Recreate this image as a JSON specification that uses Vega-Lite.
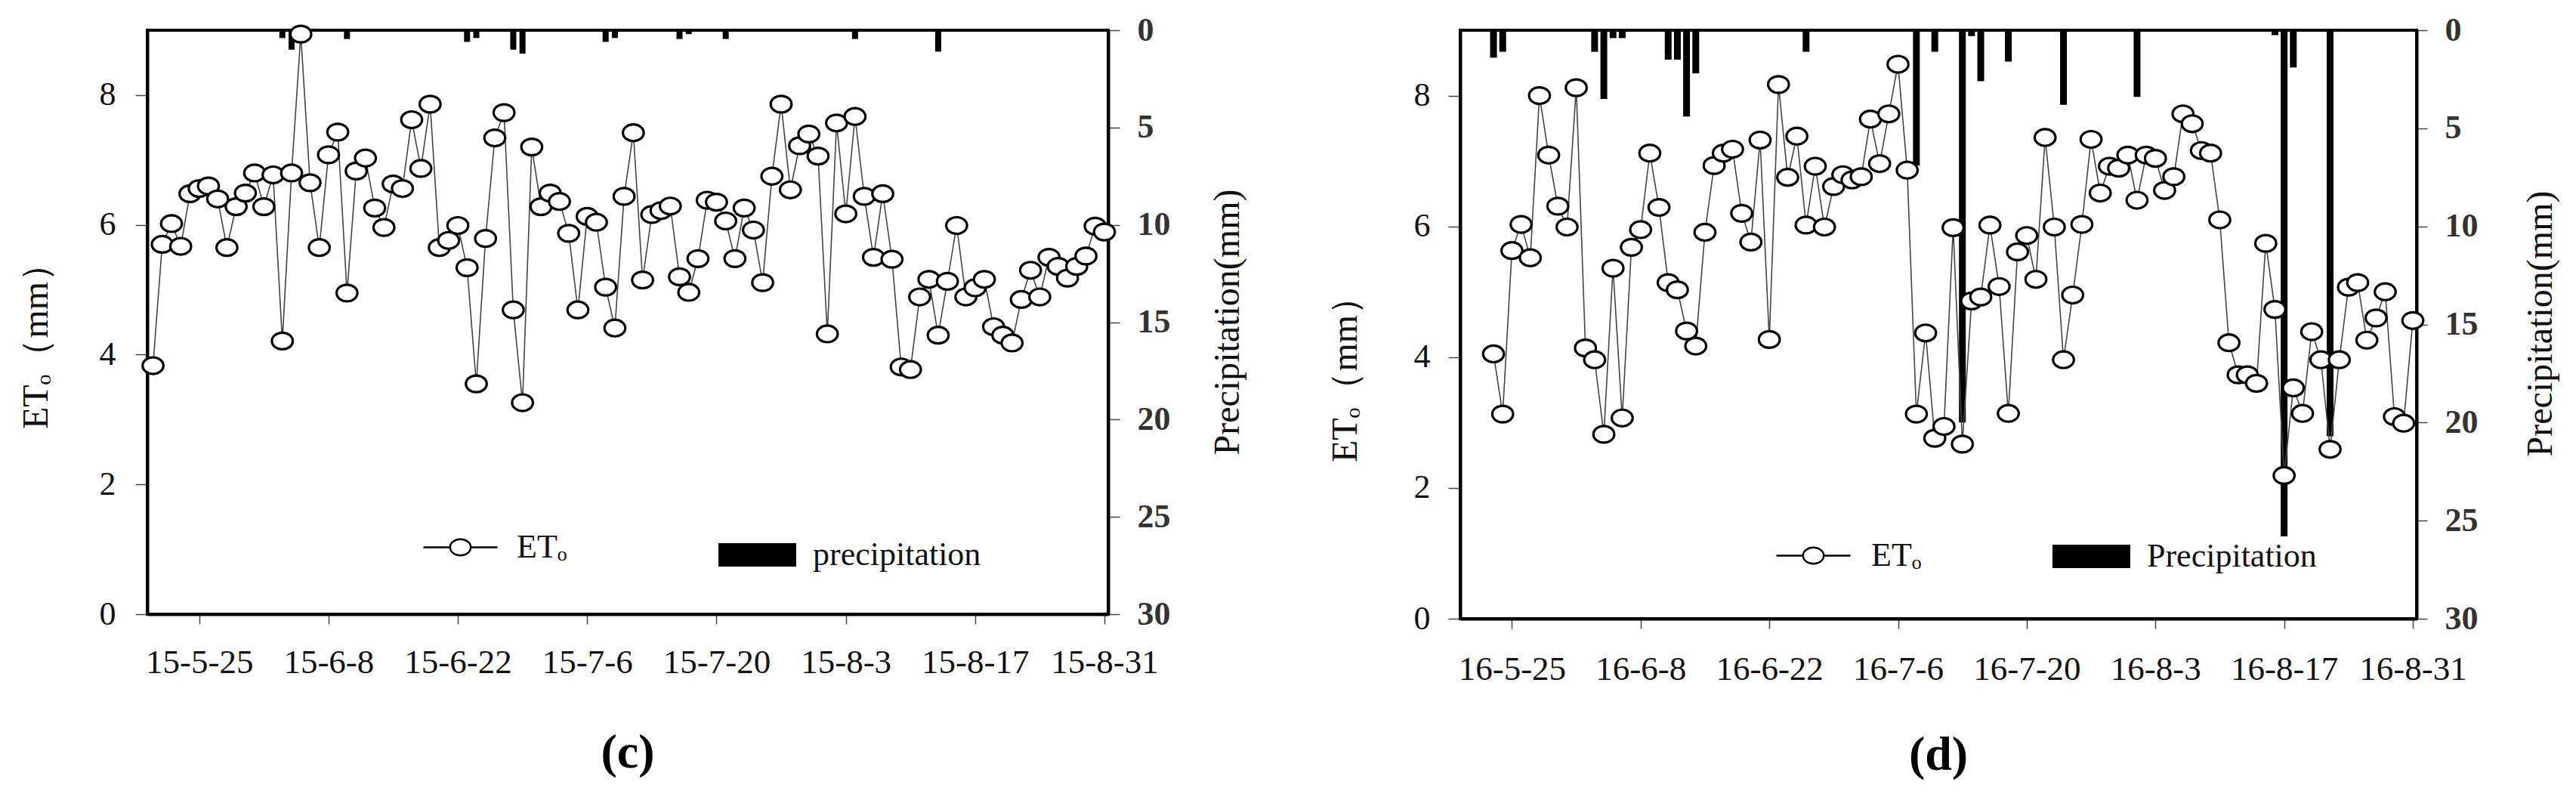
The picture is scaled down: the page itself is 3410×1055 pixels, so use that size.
{
  "$schema": "https://vega.github.io/schema/vega-lite/v6.json",
  "background": "white",
  "padding": {"left": 22, "top": 16, "right": 0, "bottom": 0},
  "spacing": 104,
  "config": {
    "font": "Liberation Serif",
    "view": {"stroke": "black", "strokeWidth": 4},
    "axis": {
      "labelFont": "Liberation Serif", "labelFontSize": 44, "labelColor": "#111",
      "titleFont": "Liberation Serif", "titleFontSize": 48, "titleFontWeight": "normal", "titleColor": "#111",
      "domainColor": "black", "domainWidth": 4, "tickColor": "#444", "tickWidth": 1.5, "grid": false,
      "labelFlush": false, "labelOverlap": false
    },
    "legend": {"labelFont": "Liberation Serif", "labelFontSize": 44, "labelColor": "#111", "labelLimit": 0, "padding": 0, "titlePadding": 0}
  },
  "datasets": {
    "et15": [
      {"date":"2015-05-20","et":3.83},{"date":"2015-05-21","et":5.70},{"date":"2015-05-22","et":6.02},{"date":"2015-05-23","et":5.67},{"date":"2015-05-24","et":6.48},{"date":"2015-05-25","et":6.56},{"date":"2015-05-26","et":6.60},{"date":"2015-05-27","et":6.40},{"date":"2015-05-28","et":5.65},{"date":"2015-05-29","et":6.28},{"date":"2015-05-30","et":6.49},{"date":"2015-05-31","et":6.80},
      {"date":"2015-06-01","et":6.28},{"date":"2015-06-02","et":6.77},{"date":"2015-06-03","et":4.21},{"date":"2015-06-04","et":6.80},{"date":"2015-06-05","et":8.94},{"date":"2015-06-06","et":6.65},{"date":"2015-06-07","et":5.65},{"date":"2015-06-08","et":7.08},{"date":"2015-06-09","et":7.43},{"date":"2015-06-10","et":4.95},{"date":"2015-06-11","et":6.83},{"date":"2015-06-12","et":7.03},{"date":"2015-06-13","et":6.26},{"date":"2015-06-14","et":5.96},{"date":"2015-06-15","et":6.63},{"date":"2015-06-16","et":6.56},{"date":"2015-06-17","et":7.62},{"date":"2015-06-18","et":6.87},{"date":"2015-06-19","et":7.86},{"date":"2015-06-20","et":5.65},{"date":"2015-06-21","et":5.76},{"date":"2015-06-22","et":5.99},{"date":"2015-06-23","et":5.34},{"date":"2015-06-24","et":3.55},{"date":"2015-06-25","et":5.79},{"date":"2015-06-26","et":7.34},{"date":"2015-06-27","et":7.73},{"date":"2015-06-28","et":4.69},{"date":"2015-06-29","et":3.26},{"date":"2015-06-30","et":7.20},
      {"date":"2015-07-01","et":6.28},{"date":"2015-07-02","et":6.49},{"date":"2015-07-03","et":6.36},{"date":"2015-07-04","et":5.87},{"date":"2015-07-05","et":4.69},{"date":"2015-07-06","et":6.13},{"date":"2015-07-07","et":6.04},{"date":"2015-07-08","et":5.04},{"date":"2015-07-09","et":4.41},{"date":"2015-07-10","et":6.44},{"date":"2015-07-11","et":7.42},{"date":"2015-07-12","et":5.15},{"date":"2015-07-13","et":6.16},{"date":"2015-07-14","et":6.22},{"date":"2015-07-15","et":6.29},{"date":"2015-07-16","et":5.20},{"date":"2015-07-17","et":4.96},{"date":"2015-07-18","et":5.48},{"date":"2015-07-19","et":6.38},{"date":"2015-07-20","et":6.35},{"date":"2015-07-21","et":6.06},{"date":"2015-07-22","et":5.48},{"date":"2015-07-23","et":6.26},{"date":"2015-07-24","et":5.92},{"date":"2015-07-25","et":5.11},{"date":"2015-07-26","et":6.75},{"date":"2015-07-27","et":7.86},{"date":"2015-07-28","et":6.54},{"date":"2015-07-29","et":7.22},{"date":"2015-07-30","et":7.40},{"date":"2015-07-31","et":7.06},
      {"date":"2015-08-01","et":4.32},{"date":"2015-08-02","et":7.57},{"date":"2015-08-03","et":6.17},{"date":"2015-08-04","et":7.67},{"date":"2015-08-05","et":6.44},{"date":"2015-08-06","et":5.50},{"date":"2015-08-07","et":6.48},{"date":"2015-08-08","et":5.47},{"date":"2015-08-09","et":3.81},{"date":"2015-08-10","et":3.77},{"date":"2015-08-11","et":4.89},{"date":"2015-08-12","et":5.16},{"date":"2015-08-13","et":4.30},{"date":"2015-08-14","et":5.13},{"date":"2015-08-15","et":5.99},{"date":"2015-08-16","et":4.89},{"date":"2015-08-17","et":5.03},{"date":"2015-08-18","et":5.16},{"date":"2015-08-19","et":4.43},{"date":"2015-08-20","et":4.30},{"date":"2015-08-21","et":4.18},{"date":"2015-08-22","et":4.85},{"date":"2015-08-23","et":5.30},{"date":"2015-08-24","et":4.89},{"date":"2015-08-25","et":5.50},{"date":"2015-08-26","et":5.36},{"date":"2015-08-27","et":5.18},{"date":"2015-08-28","et":5.36},{"date":"2015-08-29","et":5.52},{"date":"2015-08-30","et":5.98},{"date":"2015-08-31","et":5.89}
    ],
    "pr15": [
      {"date":"2015-06-03","p":0.4},{"date":"2015-06-04","p":1.0},{"date":"2015-06-10","p":0.45},{"date":"2015-06-23","p":0.6},{"date":"2015-06-24","p":0.4},{"date":"2015-06-28","p":1.0},{"date":"2015-06-29","p":1.2},{"date":"2015-07-08","p":0.6},{"date":"2015-07-09","p":0.4},{"date":"2015-07-16","p":0.45},{"date":"2015-07-17","p":0.2},{"date":"2015-07-21","p":0.45},{"date":"2015-08-04","p":0.45},{"date":"2015-08-13","p":1.1}
    ],
    "et16": [
      {"date":"2016-05-23","et":4.05},{"date":"2016-05-24","et":3.13},{"date":"2016-05-25","et":5.63},{"date":"2016-05-26","et":6.03},{"date":"2016-05-27","et":5.52},{"date":"2016-05-28","et":8.00},{"date":"2016-05-29","et":7.09},{"date":"2016-05-30","et":6.31},{"date":"2016-05-31","et":5.99},
      {"date":"2016-06-01","et":8.12},{"date":"2016-06-02","et":4.14},{"date":"2016-06-03","et":3.96},{"date":"2016-06-04","et":2.82},{"date":"2016-06-05","et":5.36},{"date":"2016-06-06","et":3.07},{"date":"2016-06-07","et":5.68},{"date":"2016-06-08","et":5.95},{"date":"2016-06-09","et":7.12},{"date":"2016-06-10","et":6.29},{"date":"2016-06-11","et":5.14},{"date":"2016-06-12","et":5.03},{"date":"2016-06-13","et":4.40},{"date":"2016-06-14","et":4.17},{"date":"2016-06-15","et":5.91},{"date":"2016-06-16","et":6.93},{"date":"2016-06-17","et":7.12},{"date":"2016-06-18","et":7.18},{"date":"2016-06-19","et":6.20},{"date":"2016-06-20","et":5.76},{"date":"2016-06-21","et":7.32},{"date":"2016-06-22","et":4.27},{"date":"2016-06-23","et":8.17},{"date":"2016-06-24","et":6.75},{"date":"2016-06-25","et":7.38},{"date":"2016-06-26","et":6.02},{"date":"2016-06-27","et":6.92},{"date":"2016-06-28","et":5.99},{"date":"2016-06-29","et":6.61},{"date":"2016-06-30","et":6.79},
      {"date":"2016-07-01","et":6.71},{"date":"2016-07-02","et":6.76},{"date":"2016-07-03","et":7.64},{"date":"2016-07-04","et":6.96},{"date":"2016-07-05","et":7.72},{"date":"2016-07-06","et":8.48},{"date":"2016-07-07","et":6.86},{"date":"2016-07-08","et":3.13},{"date":"2016-07-09","et":4.37},{"date":"2016-07-10","et":2.76},{"date":"2016-07-11","et":2.94},{"date":"2016-07-12","et":5.98},{"date":"2016-07-13","et":2.67},{"date":"2016-07-14","et":4.86},{"date":"2016-07-15","et":4.92},{"date":"2016-07-16","et":6.02},{"date":"2016-07-17","et":5.08},{"date":"2016-07-18","et":3.14},{"date":"2016-07-19","et":5.61},{"date":"2016-07-20","et":5.86},{"date":"2016-07-21","et":5.19},{"date":"2016-07-22","et":7.36},{"date":"2016-07-23","et":5.99},{"date":"2016-07-24","et":3.96},{"date":"2016-07-25","et":4.95},{"date":"2016-07-26","et":6.03},{"date":"2016-07-27","et":7.33},{"date":"2016-07-28","et":6.51},{"date":"2016-07-29","et":6.92},{"date":"2016-07-30","et":6.89},{"date":"2016-07-31","et":7.09},
      {"date":"2016-08-01","et":6.40},{"date":"2016-08-02","et":7.09},{"date":"2016-08-03","et":7.04},{"date":"2016-08-04","et":6.55},{"date":"2016-08-05","et":6.76},{"date":"2016-08-06","et":7.72},{"date":"2016-08-07","et":7.57},{"date":"2016-08-08","et":7.16},{"date":"2016-08-09","et":7.12},{"date":"2016-08-10","et":6.10},{"date":"2016-08-11","et":4.22},{"date":"2016-08-12","et":3.73},{"date":"2016-08-13","et":3.73},{"date":"2016-08-14","et":3.60},{"date":"2016-08-15","et":5.74},{"date":"2016-08-16","et":4.73},{"date":"2016-08-17","et":2.19},{"date":"2016-08-18","et":3.53},{"date":"2016-08-19","et":3.14},{"date":"2016-08-20","et":4.39},{"date":"2016-08-21","et":3.96},{"date":"2016-08-22","et":2.59},{"date":"2016-08-23","et":3.96},{"date":"2016-08-24","et":5.07},{"date":"2016-08-25","et":5.14},{"date":"2016-08-26","et":4.26},{"date":"2016-08-27","et":4.60},{"date":"2016-08-28","et":5.00},{"date":"2016-08-29","et":3.09},{"date":"2016-08-30","et":2.99},{"date":"2016-08-31","et":4.56}
    ],
    "pr16": [
      {"date":"2016-05-23","p":1.4},{"date":"2016-05-24","p":1.1},{"date":"2016-06-03","p":1.1},{"date":"2016-06-04","p":3.5},{"date":"2016-06-05","p":0.4},{"date":"2016-06-06","p":0.4},{"date":"2016-06-11","p":1.5},{"date":"2016-06-12","p":1.5},{"date":"2016-06-13","p":4.4},{"date":"2016-06-14","p":2.2},{"date":"2016-06-26","p":1.1},{"date":"2016-07-08","p":6.9},{"date":"2016-07-10","p":1.1},{"date":"2016-07-13","p":20.0},{"date":"2016-07-14","p":0.3},{"date":"2016-07-15","p":2.6},{"date":"2016-07-18","p":1.6},{"date":"2016-07-24","p":3.8},{"date":"2016-08-01","p":3.4},{"date":"2016-08-16","p":0.25},{"date":"2016-08-17","p":25.8},{"date":"2016-08-18","p":1.9},{"date":"2016-08-22","p":20.7}
    ]
  },
  "resolve": {
    "scale": {"x": "independent", "y": "independent", "fill": "independent", "stroke": "independent"},
    "legend": {"fill": "independent", "stroke": "independent"}
  },
  "hconcat": [
    {
      "width": 1272, "height": 773,
      "title": {"text": "(c)", "orient": "bottom", "anchor": "middle", "frame": "group", "fontSize": 64, "fontWeight": "bold", "font": "Liberation Serif", "color": "black", "offset": 66},
      "resolve": {"scale": {"y": "independent"}},
      "layer": [
        {
          "data": {"name": "pr15"},
          "mark": {"type": "bar", "width": 8, "color": "black"},
          "encoding": {
            "x": {"field": "date", "type": "temporal",
              "scale": {"type": "utc", "domain": [{"year": 2015, "month": 5, "date": 19, "hours": 19, "utc": true}, {"year": 2015, "month": 8, "date": 31, "utc": true}]},
              "axis": {"title": null, "format": "%y-%-m-%-d", "tickSize": 13, "labelPadding": 28, "labelFontSize": 45,
                "values": [{"year": 2015, "month": 5, "date": 25, "utc": true}, {"year": 2015, "month": 6, "date": 8, "utc": true}, {"year": 2015, "month": 6, "date": 22, "utc": true}, {"year": 2015, "month": 7, "date": 6, "utc": true}, {"year": 2015, "month": 7, "date": 20, "utc": true}, {"year": 2015, "month": 8, "date": 3, "utc": true}, {"year": 2015, "month": 8, "date": 17, "utc": true}, {"year": 2015, "month": 8, "date": 31, "utc": true}]}},
            "y": {"field": "p", "type": "quantitative",
              "scale": {"domain": [0, 30], "reverse": true, "nice": false},
              "axis": {"orient": "right", "title": "Precipitation(mm)", "values": [0, 5, 10, 15, 20, 25, 30], "tickSize": 15, "labelPadding": 23, "labelFontWeight": "bold", "labelColor": "#333", "titleAngle": -90, "titleAlign": "center", "titleBaseline": "middle", "titleX": 158, "titleY": 386}},
            "fill": {"datum": "precipitation", "scale": {"range": ["black"]},
              "legend": {"orient": "none", "legendX": 756, "legendY": 643, "title": null, "symbolType": "M-1,-0.3H1V0.3H-1Z", "symbolSize": 10609, "symbolFillColor": "black", "symbolStrokeWidth": 0, "labelOffset": 22, "labelLimit": 0}}
          }
        },
        {
          "data": {"name": "et15"},
          "encoding": {
            "x": {"field": "date", "type": "temporal",
              "scale": {"type": "utc", "domain": [{"year": 2015, "month": 5, "date": 19, "hours": 19, "utc": true}, {"year": 2015, "month": 8, "date": 31, "utc": true}]}},
            "y": {"field": "et", "type": "quantitative",
              "scale": {"domain": [0, 9], "nice": false},
              "axis": {"orient": "left", "title": "ETₒ（mm）", "values": [0, 2, 4, 6, 8], "tickSize": 16, "labelPadding": 26, "titleAngle": -90, "titleAlign": "center", "titleBaseline": "middle", "titleX": -147, "titleY": 406}}
          },
          "layer": [
            {"mark": {"type": "line", "color": "#444", "strokeWidth": 1.6}},
            {"mark": {"type": "point", "shape": "M1,0A1,0.8,0,1,1,-1,0A1,0.8,0,1,1,1,0Z", "size": 760, "filled": true, "fill": "white", "strokeWidth": 3.2, "opacity": 1},
             "encoding": {"stroke": {"datum": "ETₒ", "scale": {"range": ["black"]},
               "legend": {"orient": "none", "legendX": 364, "legendY": 634, "title": null, "symbolType": "M-1,0H-0.28M0.28,0H1M0.28,0A0.28,0.22,0,1,1,-0.28,0A0.28,0.22,0,1,1,0.28,0", "symbolSize": 9604, "symbolStrokeWidth": 2.5, "symbolFillColor": "white", "labelOffset": 24, "labelLimit": 0}}}}
          ]
        }
      ]
    },
    {
      "width": 1266, "height": 779,
      "title": {"text": "(d)", "orient": "bottom", "anchor": "middle", "frame": "group", "fontSize": 64, "fontWeight": "bold", "font": "Liberation Serif", "color": "black", "offset": 60},
      "resolve": {"scale": {"y": "independent"}},
      "layer": [
        {
          "data": {"name": "pr16"},
          "mark": {"type": "bar", "width": 9, "color": "black"},
          "encoding": {
            "x": {"field": "date", "type": "temporal",
              "scale": {"type": "utc", "domain": [{"year": 2016, "month": 5, "date": 19, "hours": 19, "utc": true}, {"year": 2016, "month": 8, "date": 31, "utc": true}]},
              "axis": {"title": null, "format": "%y-%-m-%-d", "tickSize": 13, "labelPadding": 31, "labelFontSize": 45,
                "values": [{"year": 2016, "month": 5, "date": 25, "utc": true}, {"year": 2016, "month": 6, "date": 8, "utc": true}, {"year": 2016, "month": 6, "date": 22, "utc": true}, {"year": 2016, "month": 7, "date": 6, "utc": true}, {"year": 2016, "month": 7, "date": 20, "utc": true}, {"year": 2016, "month": 8, "date": 3, "utc": true}, {"year": 2016, "month": 8, "date": 17, "utc": true}, {"year": 2016, "month": 8, "date": 31, "utc": true}]}},
            "y": {"field": "p", "type": "quantitative",
              "scale": {"domain": [0, 30], "reverse": true, "nice": false},
              "axis": {"orient": "right", "title": "Precipitation(mm)", "values": [0, 5, 10, 15, 20, 25, 30], "tickSize": 14, "labelPadding": 23, "labelFontWeight": "bold", "labelColor": "#333", "titleAngle": -90, "titleAlign": "center", "titleBaseline": "middle", "titleX": 164, "titleY": 388}},
            "fill": {"datum": "Precipitation", "scale": {"range": ["black"]},
              "legend": {"orient": "none", "legendX": 784, "legendY": 645, "title": null, "symbolType": "M-1,-0.3H1V0.3H-1Z", "symbolSize": 10609, "symbolFillColor": "black", "symbolStrokeWidth": 0, "labelOffset": 22, "labelLimit": 0}}
          }
        },
        {
          "data": {"name": "et16"},
          "encoding": {
            "x": {"field": "date", "type": "temporal",
              "scale": {"type": "utc", "domain": [{"year": 2016, "month": 5, "date": 19, "hours": 19, "utc": true}, {"year": 2016, "month": 8, "date": 31, "utc": true}]}},
            "y": {"field": "et", "type": "quantitative",
              "scale": {"domain": [0, 9], "nice": false},
              "axis": {"orient": "left", "title": "ETₒ（mm）", "values": [0, 2, 4, 6, 8], "tickSize": 16, "labelPadding": 24, "titleAngle": -90, "titleAlign": "center", "titleBaseline": "middle", "titleX": -152, "titleY": 450}}
          },
          "layer": [
            {"mark": {"type": "line", "color": "#444", "strokeWidth": 1.6}},
            {"mark": {"type": "point", "shape": "M1,0A1,0.8,0,1,1,-1,0A1,0.8,0,1,1,1,0Z", "size": 760, "filled": true, "fill": "white", "strokeWidth": 3.2, "opacity": 1},
             "encoding": {"stroke": {"datum": "ETₒ", "scale": {"range": ["black"]},
               "legend": {"orient": "none", "legendX": 417, "legendY": 645, "title": null, "symbolType": "M-1,0H-0.28M0.28,0H1M0.28,0A0.28,0.22,0,1,1,-0.28,0A0.28,0.22,0,1,1,0.28,0", "symbolSize": 9604, "symbolStrokeWidth": 2.5, "symbolFillColor": "white", "labelOffset": 26, "labelLimit": 0}}}}
          ]
        }
      ]
    }
  ]
}
